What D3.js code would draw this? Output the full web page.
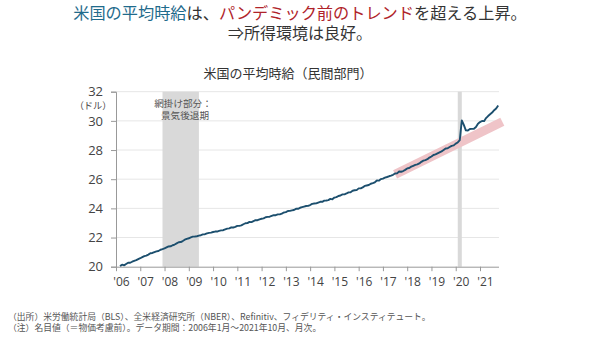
<!DOCTYPE html>
<html><head><meta charset="utf-8">
<script src="https://cdn.jsdelivr.net/npm/d3@7"></script>
<style>
html,body{margin:0;padding:0;background:#fff;}
svg{display:block;font-family:"Noto Sans CJK JP","Noto Sans",sans-serif;}
</style></head>
<body>
<svg id="chart" width="600" height="337"></svg>
<script>
// ---- data ----
const firstYear = 2006, firstMonth = 3; // series starts March 2006
const wages = [
 20.04,20.14,20.09,20.18,20.27,20.27,20.34,20.40,20.45,20.52,
 20.58,20.65,20.72,20.76,20.83,20.92,20.94,21.00,21.05,21.08,21.16,21.20,
 21.25,21.32,21.39,21.40,21.47,21.52,21.60,21.68,21.69,21.76,21.85,21.91,
 21.95,22.01,22.06,22.07,22.09,22.13,22.16,22.22,22.23,22.29,22.32,22.34,
 22.38,22.41,22.41,22.46,22.49,22.50,22.56,22.61,22.63,22.70,22.69,22.73,
 22.80,22.80,22.83,22.91,22.98,22.99,23.07,23.06,23.13,23.19,23.19,23.25,
 23.29,23.31,23.39,23.42,23.43,23.48,23.53,23.53,23.59,23.59,23.64,23.72,
 23.74,23.82,23.83,23.86,23.89,23.97,23.97,24.04,24.08,24.12,24.16,24.17,
 24.23,24.31,24.33,24.34,24.40,24.45,24.45,24.53,24.54,24.57,24.65,24.62,
 24.74,24.77,24.85,24.88,24.96,24.96,25.02,25.10,25.11,25.21,25.24,25.25,
 25.37,25.37,25.44,25.54,25.57,25.60,25.69,25.73,25.79,25.91,25.90,26.01,
 26.04,26.11,26.15,26.20,26.24,26.30,26.39,26.40,26.53,26.51,26.56,26.64,
 26.74,26.77,26.86,26.92,26.98,27.02,27.08,27.19,27.27,27.31,27.37,27.48,
 27.56,27.66,27.70,27.77,27.84,27.91,28.00,28.11,28.12,28.21,28.29,28.32,
 28.44,28.52,28.68,30.03,29.72,29.35,29.34,29.44,29.45,29.46,29.58,29.81,
 29.92,29.99,29.98,30.19,30.33,30.45,30.57,30.73,30.85,31.05
];
const recessions = [[2007 + 11/12, 2009 + 5/12], [2020 + 1/12, 2020 + 3/12]];
const trendYears = [2017.5, 2021.92];
const trendValues = [26.33, 29.94];
const yTicks = [20, 22, 24, 26, 28, 30, 32];
const xTickYears = d3.range(2006, 2022);
const xTickLabels = xTickYears.map(v => "'" + String(v).slice(2));

// ---- layout ----
const svg = d3.select("#chart");
const plotLeft = 116, axisRight = 499, plotTop = 91.7, plotBottom = 266.7;
const x = d3.scaleLinear().domain([2006, 2021]).range([116, 480]);
const y = d3.scaleLinear().domain([20, 32]).range([plotBottom, plotTop]);

// titles
const t1 = svg.append("text").attr("x", 300).attr("y", 19).attr("text-anchor", "middle")
  .attr("font-size", 16.2).attr("fill", "#333");
t1.append("tspan").attr("fill", "#1f6b8c").text("米国の平均時給");
t1.append("tspan").text("は、");
t1.append("tspan").attr("fill", "#b0232a").text("パンデミック前のトレンド");
t1.append("tspan").text("を超える上昇。");
svg.append("text").attr("x", 300).attr("y", 38.5).attr("text-anchor", "middle")
  .attr("font-size", 16).attr("fill", "#333").text("⇒所得環境は良好。");
svg.append("text").attr("x", 288).attr("y", 78).attr("text-anchor", "middle")
  .attr("font-size", 13).attr("fill", "#333").text("米国の平均時給（民間部門）");

// gridlines
svg.append("g").selectAll("line").data(yTicks.filter(d => d > 20)).join("line")
  .attr("x1", plotLeft).attr("x2", axisRight).attr("y1", d => y(d)).attr("y2", d => y(d))
  .attr("stroke", "#e6e6e6").attr("stroke-width", 1);

// recession bands
svg.append("g").selectAll("rect").data(recessions).join("rect")
  .attr("x", d => x(d[0])).attr("width", d => x(d[1]) - x(d[0]))
  .attr("y", plotTop).attr("height", plotBottom - plotTop).attr("fill", "#d9d9d9");

svg.append("text").attr("x", 183).attr("y", 106.5).attr("text-anchor", "middle")
  .attr("font-size", 9.6).attr("fill", "#555").text("網掛け部分：");
svg.append("text").attr("x", 185).attr("y", 118.5).attr("text-anchor", "middle")
  .attr("font-size", 9.6).attr("fill", "#555").text("景気後退期");

// trend band
const trend = trendYears.map((t, i) => [t, trendValues[i]]);
svg.append("path").datum(trend)
  .attr("d", d3.line().x(d => x(d[0])).y(d => y(d[1])))
  .attr("stroke", "#efc4c8").attr("stroke-width", 9).attr("fill", "none")
  .attr("stroke-linecap", "butt");

// series
const series = wages.map((v, i) => [firstYear + (firstMonth - 1 + i) / 12, v]);
svg.append("path").datum(series)
  .attr("d", d3.line().x(d => x(d[0])).y(d => y(d[1])))
  .attr("stroke", "#1c4f6e").attr("stroke-width", 1.9).attr("fill", "none")
  .attr("stroke-linejoin", "round");

// y axis
const yAxis = svg.append("g").attr("transform", `translate(${plotLeft},0)`)
  .call(d3.axisLeft(y).tickValues(yTicks).tickSize(5).tickPadding(8).tickFormat(d3.format("d")));
yAxis.select(".domain").attr("stroke", "#999");
yAxis.selectAll(".tick line").attr("stroke", "#999");
yAxis.selectAll(".tick text").attr("font-size", 13).attr("fill", "#444")
  .attr("font-family", "'Open Sans','Noto Sans',sans-serif");
svg.append("text").attr("x", 93).attr("y", 109).attr("text-anchor", "middle")
  .attr("font-size", 9.2).attr("fill", "#444").text("（ドル）");

// x axis
const xAxis = svg.append("g").attr("transform", `translate(0,${plotBottom})`)
  .call(d3.axisBottom(x).tickValues(xTickYears).tickSize(4.5).tickSizeOuter(0)
    .tickFormat((d, i) => xTickLabels[i]));
xAxis.select(".domain").attr("stroke", "#999").attr("d", `M${plotLeft},0.5H${axisRight}`);
xAxis.selectAll(".tick line").attr("stroke", "#999");
xAxis.selectAll(".tick text").attr("font-size", 12).attr("fill", "#444")
  .attr("dx", 5).attr("dy", "0.95em")
  .attr("font-family", "'Open Sans','Noto Sans',sans-serif");

// footnotes
svg.append("text").attr("x", 8).attr("y", 320).attr("font-size", 8.8).attr("fill", "#555")
  .text("（出所）米労働統計局（BLS）、全米経済研究所（NBER）、Refinitiv、フィデリティ・インスティテュート。");
svg.append("text").attr("x", 8).attr("y", 331).attr("font-size", 8.8).attr("fill", "#555")
  .text("（注）名目値（＝物価考慮前）。データ期間：2006年1月～2021年10月、月次。");
</script>
</body></html>
